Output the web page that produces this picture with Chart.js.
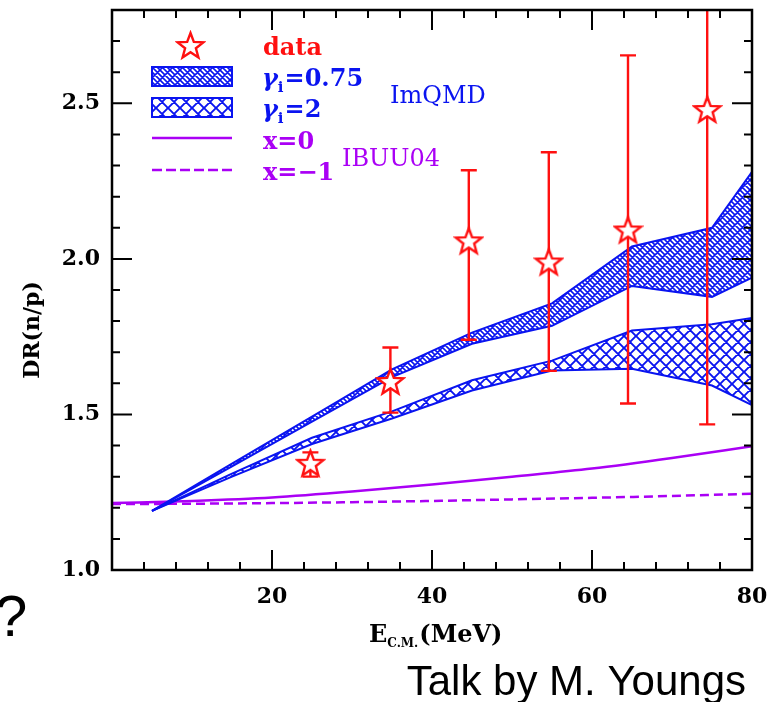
<!DOCTYPE html>
<html>
<head>
<meta charset="utf-8">
<title>DR(n/p)</title>
<script src="https://cdn.jsdelivr.net/npm/chart.js@4.4.1/dist/chart.umd.min.js"></script>
<style>
  html, body { margin: 0; padding: 0; background: #fff; }
  canvas { display: block; }
</style>
</head>
<body>
<canvas id="chart" width="782" height="702"></canvas>
<script>
// measured double ratio with error bars
const energy = [24.8, 34.8, 44.6, 54.6, 64.5, 74.4];
const drData = [1.343, 1.606, 2.058, 1.99, 2.093, 2.48];
const drLow  = [1.30, 1.506, 1.74, 1.64, 1.535, 1.468];
const drHigh = [1.378, 1.715, 2.285, 2.343, 2.654, 3.2];

// ImQMD bands (upper / lower edges)
const bandE = [5, 15, 25, 35, 45, 55, 65, 75, 80];
const g075Upper = [1.19, 1.342, 1.493, 1.645, 1.763, 1.857, 2.04, 2.10, 2.28];
const g075Lower = [1.19, 1.333, 1.477, 1.62, 1.727, 1.785, 1.913, 1.878, 1.94];
const g2Upper = [1.19, 1.31, 1.425, 1.51, 1.61, 1.673, 1.77, 1.79, 1.81];
const g2Lower = [1.19, 1.30, 1.405, 1.487, 1.577, 1.641, 1.647, 1.593, 1.53];

// IBUU04 curves
const ibuuE = [0, 10, 20, 30, 40, 50, 60, 70, 80];
const ibuuX0  = [1.215, 1.222, 1.233, 1.252, 1.275, 1.30, 1.326, 1.36, 1.398];
const ibuuXm1 = [1.212, 1.213, 1.215, 1.218, 1.222, 1.227, 1.232, 1.238, 1.245];

const xTicks = [20, 40, 60, 80];
const yTicks = [1.0, 1.5, 2.0, 2.5];

const RED = '#ff1010';
const BLUE = '#0a14f0';
const PURPLE = '#aa00f5';
const SERIF = '"DejaVu Serif", serif';

const pts = (xs, ys) => xs.map((x, i) => ({ x: x, y: ys[i] }));

// diagonal hatching; spacings are horizontal distances between lines
function hatch(slashGap, backGap, lw) {
  const s = Math.max(slashGap, backGap);
  const c = document.createElement('canvas');
  c.width = c.height = s;
  const g = c.getContext('2d');
  g.strokeStyle = BLUE;
  g.lineWidth = lw;
  g.beginPath();
  for (let o = -s; o <= s; o += slashGap) {        // "/"
    g.moveTo(o - 1, s + 1); g.lineTo(o + s + 1, -1);
  }
  for (let o = -s; o <= s; o += backGap) {         // "\"
    g.moveTo(o - 1, -1); g.lineTo(o + s + 1, s + 1);
  }
  g.stroke();
  return g.createPattern(c, 'repeat');
}
const denseHatch = hatch(10, 5, 1.6);
const crossHatch = hatch(12, 12, 1.9);

function makeStar(size) {
  const c = document.createElement('canvas');
  c.width = c.height = size;
  const g = c.getContext('2d');
  const R = size / 2 - 2, r = R * 0.42;
  g.beginPath();
  for (let k = 0; k < 10; k++) {
    const a = -Math.PI / 2 + k * Math.PI / 5;
    const rr = k % 2 ? r : R;
    g.lineTo(size / 2 + rr * Math.cos(a), size / 2 + 1 + rr * Math.sin(a));
  }
  g.closePath();
  g.fillStyle = '#fff';
  g.fill();
  g.strokeStyle = RED;
  g.lineWidth = 2.4;
  g.stroke();
  return c;
}
const star = makeStar(31);

// error bars, drawn just before the star markers
const errorBars = {
  id: 'errorBars',
  beforeDatasetDraw(chart, args) {
    if (args.meta.label !== 'data') return;
    const { ctx, chartArea: a, scales: { x, y } } = chart;
    ctx.save();
    ctx.beginPath();
    ctx.rect(a.left, a.top, a.right - a.left, a.bottom - a.top);
    ctx.clip();
    ctx.strokeStyle = RED;
    ctx.lineWidth = 2.4;
    energy.forEach((e, i) => {
      const px = x.getPixelForValue(e);
      const lo = y.getPixelForValue(drLow[i]);
      const hi = y.getPixelForValue(drHigh[i]);
      ctx.beginPath();
      ctx.moveTo(px, lo); ctx.lineTo(px, hi);
      ctx.moveTo(px - 8, lo); ctx.lineTo(px + 8, lo);
      ctx.moveTo(px - 8, hi); ctx.lineTo(px + 8, hi);
      ctx.stroke();
    });
    ctx.restore();
  }
};

// boxed frame with inward ticks on all four sides
const frameTicks = {
  id: 'frameTicks',
  afterDatasetsDraw(chart) {
    const { ctx, chartArea: a, scales: { x, y } } = chart;
    ctx.save();
    ctx.strokeStyle = '#000';
    ctx.lineWidth = 2.5;
    ctx.strokeRect(a.left, a.top, a.right - a.left, a.bottom - a.top);
    ctx.lineWidth = 2;
    ctx.beginPath();
    for (let e = 0; e <= 80; e += 4) {
      const px = x.getPixelForValue(e);
      const len = e % 20 === 0 ? 20 : 8;
      ctx.moveTo(px, a.bottom); ctx.lineTo(px, a.bottom - len);
      ctx.moveTo(px, a.top); ctx.lineTo(px, a.top + len);
    }
    for (let k = 10; k <= 28; k++) {
      const py = y.getPixelForValue(k / 10);
      const len = k % 5 === 0 ? 20 : 8;
      ctx.moveTo(a.left, py); ctx.lineTo(a.left + len, py);
      ctx.moveTo(a.right, py); ctx.lineTo(a.right - len, py);
    }
    ctx.stroke();
    ctx.restore();
  }
};

function gammaLabel(ctx, text, x, y) {
  ctx.font = 'italic bold 24px ' + SERIF;
  ctx.fillText('\u03b3', x, y);
  let w = ctx.measureText('\u03b3').width;
  ctx.font = 'bold 15px ' + SERIF;
  ctx.fillText('i', x + w, y + 6);
  w += ctx.measureText('i').width + 1;
  ctx.font = 'bold 24px ' + SERIF;
  ctx.fillText(text, x + w, y);
}

// legend, model names and axis titles
const annotations = {
  id: 'annotations',
  afterDraw(chart) {
    const ctx = chart.ctx;
    ctx.save();
    ctx.textBaseline = 'alphabetic';
    ctx.textAlign = 'left';

    ctx.drawImage(star, 190 - 15, 45 - 15);
    ctx.fillStyle = RED;
    ctx.font = 'bold 24px ' + SERIF;
    ctx.fillText('data', 263, 55);

    ctx.lineWidth = 2;
    ctx.strokeStyle = BLUE;
    ctx.fillStyle = denseHatch;
    ctx.fillRect(152, 67, 80, 19);
    ctx.strokeRect(152, 67, 80, 19);
    ctx.fillStyle = crossHatch;
    ctx.fillRect(152, 98, 80, 19);
    ctx.strokeRect(152, 98, 80, 19);
    ctx.fillStyle = BLUE;
    gammaLabel(ctx, '=0.75', 262, 86);
    gammaLabel(ctx, '=2', 262, 117);

    ctx.strokeStyle = PURPLE;
    ctx.lineWidth = 2.5;
    ctx.beginPath();
    ctx.moveTo(152, 138); ctx.lineTo(232, 138);
    ctx.stroke();
    ctx.setLineDash([10, 4]);
    ctx.beginPath();
    ctx.moveTo(152, 170); ctx.lineTo(232, 170);
    ctx.stroke();
    ctx.setLineDash([]);
    ctx.fillStyle = PURPLE;
    ctx.font = 'bold 24px ' + SERIF;
    ctx.fillText('x=0', 263, 149);
    ctx.fillText('x=\u22121', 263, 180);

    ctx.font = '24px ' + SERIF;
    ctx.fillText('IBUU04', 342, 166);
    ctx.fillStyle = BLUE;
    ctx.fillText('ImQMD', 390, 103);

    // axis titles
    ctx.fillStyle = '#000';
    ctx.font = 'bold 22px ' + SERIF;
    ctx.save();
    ctx.translate(39, 330);
    ctx.rotate(-Math.PI / 2);
    ctx.textAlign = 'center';
    ctx.fillText('DR(n/p)', 0, 0);
    ctx.restore();

    ctx.font = 'bold 24px ' + SERIF;
    ctx.fillText('E', 369, 642);
    let w = ctx.measureText('E').width;
    ctx.font = 'bold 12px ' + SERIF;
    ctx.fillText('C.M.', 369 + w, 647);
    w += ctx.measureText('C.M.').width;
    ctx.font = 'bold 24px ' + SERIF;
    ctx.fillText('(MeV)', 369 + w + 1, 642);

    ctx.font = '42px "Liberation Sans", Arial, sans-serif';
    ctx.textAlign = 'right';
    ctx.fillText('Talk by M. Youngs', 746, 695);
    ctx.textAlign = 'left';
    ctx.font = '58px "Liberation Sans", Arial, sans-serif';
    ctx.fillText('?', -5, 636);
    ctx.restore();
  }
};

const tickFont = { family: SERIF, size: 22, weight: 'bold' };

new Chart(document.getElementById('chart'), {
  type: 'line',
  data: {
    datasets: [
      {
        label: 'data',
        data: pts(energy, drData),
        showLine: false,
        pointStyle: star,
        order: -1
      },
      {
        label: 'g075 upper',
        data: pts(bandE, g075Upper),
        borderColor: BLUE, borderWidth: 2, pointRadius: 0,
        backgroundColor: denseHatch, fill: '+1', tension: 0
      },
      {
        label: 'g075 lower',
        data: pts(bandE, g075Lower),
        borderColor: BLUE, borderWidth: 2, pointRadius: 0,
        fill: false, tension: 0
      },
      {
        label: 'g2 upper',
        data: pts(bandE, g2Upper),
        borderColor: BLUE, borderWidth: 2, pointRadius: 0,
        backgroundColor: crossHatch, fill: '+1', tension: 0
      },
      {
        label: 'g2 lower',
        data: pts(bandE, g2Lower),
        borderColor: BLUE, borderWidth: 2, pointRadius: 0,
        fill: false, tension: 0
      },
      {
        label: 'x=0',
        data: pts(ibuuE, ibuuX0),
        borderColor: PURPLE, borderWidth: 2.5, pointRadius: 0,
        fill: false, cubicInterpolationMode: 'monotone'
      },
      {
        label: 'x=-1',
        data: pts(ibuuE, ibuuXm1),
        borderColor: PURPLE, borderWidth: 2.5, pointRadius: 0,
        borderDash: [9, 5], fill: false, cubicInterpolationMode: 'monotone'
      }
    ]
  },
  options: {
    responsive: false,
    animation: false,
    events: [],
    layout: { padding: { top: 10, right: 30, left: 0, bottom: 0 } },
    plugins: { legend: { display: false }, tooltip: { enabled: false } },
    scales: {
      x: {
        type: 'linear', min: 0, max: 80,
        afterFit(s) { s.height = 132; s.paddingLeft = 0; s.paddingRight = 0; },
        grid: { display: false, drawTicks: false },
        border: { display: false },
        ticks: {
          stepSize: 20, padding: 14, color: '#000', font: tickFont,
          maxRotation: 0, autoSkip: false,
          callback: v => xTicks.includes(v) ? String(v) : ''
        }
      },
      y: {
        type: 'linear', min: 1.0, max: 2.8,
        afterFit(s) { s.width = 112; s.paddingTop = 0; s.paddingBottom = 0; },
        grid: { display: false, drawTicks: false },
        border: { display: false },
        ticks: {
          stepSize: 0.5, padding: 12, color: '#000', font: tickFont,
          autoSkip: false,
          callback: v => yTicks.some(t => Math.abs(t - v) < 1e-6) ? v.toFixed(1) : ''
        }
      }
    }
  },
  plugins: [errorBars, frameTicks, annotations]
});
</script>
</body>
</html>
